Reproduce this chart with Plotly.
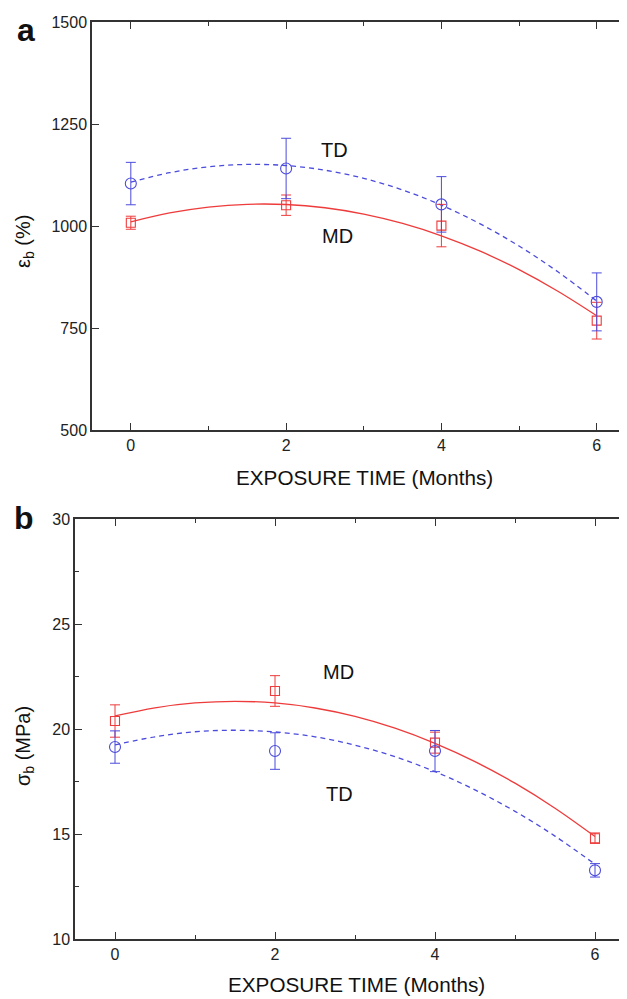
import plotly.graph_objects as go

# ---------------- data ----------------
months = [0, 2, 4, 6]

# panel a: elongation at break (%)
eps_md = [1008, 1051, 1001, 768]
eps_md_err = [16, 25, 52, 45]
eps_td = [1104, 1141, 1053, 814]
eps_td_err = [52, 74, 68, 71]

# panel b: tensile strength at break (MPa)
sig_md = [20.38, 21.81, 19.35, 14.80]
sig_md_err = [0.77, 0.73, 0.50, 0.25]
sig_td = [19.14, 18.95, 18.95, 13.27]
sig_td_err = [0.77, 0.87, 0.98, 0.32]

# fitted curves
fit_x = [0, 0.5, 1, 1.5, 2, 2.5, 3, 3.5, 4, 4.5, 5, 5.5, 6]
eps_md_fit = [1010, 1031.9, 1046.3, 1053.2, 1052.7, 1044.7, 1029.2, 1006.3, 976, 938.2, 893, 840.1, 780]
eps_td_fit = [1107.5, 1130.6, 1145.1, 1150.9, 1148.2, 1136.8, 1116.8, 1088.2, 1051, 1005.2, 950.8, 887.7, 816]
sig_md_fit = [20.62, 21.01, 21.24, 21.32, 21.24, 21.00, 20.60, 20.04, 19.32, 18.45, 17.42, 16.23, 14.88]
sig_td_fit = [19.24, 19.63, 19.87, 19.94, 19.86, 19.63, 19.23, 18.68, 17.97, 17.10, 16.08, 14.90, 13.56]

x_ticks = [0, 2, 4, 6]
eps_ticks = [500, 750, 1000, 1250, 1500]
sig_ticks = [10, 15, 20, 25, 30]

RED = "#EE3B3B"
BLUE = "#4B4BDD"
FONT = "Liberation Sans, Arial, sans-serif"
PAGE_W, PAGE_H = 627, 999
OFF = 8  # default body margin of the page
W, H = PAGE_W - OFF, PAGE_H - OFF

fig = go.Figure()

def add_panel(xa, ya, md, md_err, td, td_err, md_fit, td_fit):
    fig.add_trace(go.Scatter(x=fit_x, y=md_fit, mode="lines", line=dict(color=RED, width=1.3, shape="spline"),
                             xaxis=xa, yaxis=ya, showlegend=False, hoverinfo="skip"))
    fig.add_trace(go.Scatter(x=fit_x, y=td_fit, mode="lines",
                             line=dict(color=BLUE, width=1.3, dash="5px,4px", shape="spline"),
                             xaxis=xa, yaxis=ya, showlegend=False, hoverinfo="skip"))
    fig.add_trace(go.Scatter(x=months, y=md, mode="markers",
                             marker=dict(symbol="square-open", size=9, color=RED, line=dict(width=1.1)),
                             error_y=dict(type="data", array=md_err, color=RED, thickness=1, width=5),
                             xaxis=xa, yaxis=ya, showlegend=False))
    fig.add_trace(go.Scatter(x=months, y=td, mode="markers",
                             marker=dict(symbol="circle-open", size=11, color=BLUE, line=dict(width=1.1)),
                             error_y=dict(type="data", array=td_err, color=BLUE, thickness=1, width=5),
                             xaxis=xa, yaxis=ya, showlegend=False))

add_panel("x", "y", eps_md, eps_md_err, eps_td, eps_td_err, eps_md_fit, eps_td_fit)
add_panel("x2", "y2", sig_md, sig_md_err, sig_td, sig_td_err, sig_md_fit, sig_td_fit)

ax_common = dict(showline=True, linecolor="#333333", linewidth=1.5, ticks="inside", tickcolor="#333333",
                 ticklen=7, tickwidth=1.3, showgrid=False, zeroline=False, automargin=False,
                 tickfont=dict(family=FONT, size=16, color="#222222"))

def px2paper_x(p):
    return (p - OFF) / W

def px2paper_y(p):
    return 1 - (p - OFF) / H

fig.update_layout(
    template="none",
    width=W, height=H,
    margin=dict(l=0, r=0, t=0, b=0, autoexpand=False),
    paper_bgcolor="white", plot_bgcolor="white",
    font=dict(family=FONT, color="#222222"),
    xaxis=dict(domain=[px2paper_x(92), 1], anchor="y", range=[-0.5, 6.39], tickvals=x_ticks,
               mirror="ticks", minor=dict(tickvals=[1, 3, 5], ticks="inside", ticklen=4, tickcolor="#333333"),
               **ax_common),
    yaxis=dict(domain=[px2paper_y(430), px2paper_y(22)], anchor="x", range=[500, 1500], tickvals=eps_ticks,
               **ax_common),
    xaxis2=dict(domain=[px2paper_x(75), 1], anchor="y2", range=[-0.5, 6.4], tickvals=x_ticks,
                mirror="ticks", minor=dict(tickvals=[1, 3, 5], ticks="inside", ticklen=4, tickcolor="#333333"),
                **ax_common),
    yaxis2=dict(domain=[px2paper_y(939), px2paper_y(519)], anchor="x2", range=[10, 30], tickvals=sig_ticks,
                minor=dict(tickvals=[12.5, 17.5, 22.5, 27.5], ticks="inside", ticklen=4, tickcolor="#333333"),
                **ax_common),
)

ann = []
def paper_text(text, x, y, size, bold=False, angle=0, xanchor="center"):
    ann.append(dict(text=f"<b>{text}</b>" if bold else text, x=px2paper_x(x), y=px2paper_y(y),
                    xref="paper", yref="paper", showarrow=False, textangle=angle,
                    xanchor=xanchor, yanchor="middle",
                    font=dict(family=FONT, size=size, color="#111111")))

paper_text("a", 26, 30, 32, bold=True)
paper_text("b", 24, 518, 32, bold=True)
paper_text("EXPOSURE TIME (Months)", 364, 478, 20.7)
paper_text("EXPOSURE TIME (Months)", 356, 984, 20.7)
paper_text("ε<sub>b</sub> (%)", 24, 242, 20, angle=-90)
paper_text("σ<sub>b</sub> (MPa)", 24, 746, 20, angle=-90)

# curve labels in data coordinates
for txt, x, y, xr, yr in [("TD", 2.62, 1187, "x", "y"), ("MD", 2.66, 976, "x", "y"),
                          ("MD", 2.79, 22.71, "x2", "y2"), ("TD", 2.8, 16.9, "x2", "y2")]:
    ann.append(dict(text=txt, x=x, y=y, xref=xr, yref=yr, showarrow=False,
                    font=dict(family=FONT, size=20, color="#111111")))

fig.update_layout(annotations=ann)
fig.write_html("out.html")
